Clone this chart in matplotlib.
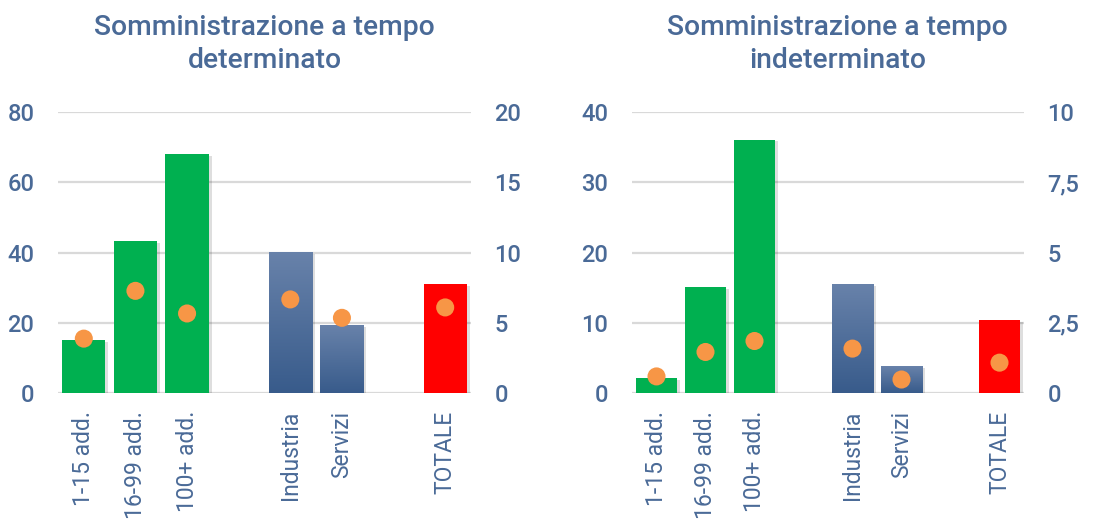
import matplotlib
matplotlib.use("Agg")
import matplotlib.pyplot as plt
import matplotlib.patheffects as pe
from matplotlib.colors import LinearSegmentedColormap
import numpy as np

categories = ["1-15 add.", "16-99 add.", "100+ add.", "", "Industria", "Servizi", "", "TOTALE"]
bar_groups = ["dim", "dim", "dim", None, "sett", "sett", None, "tot"]

det_bars = [15.0, 43.2, 68.0, None, 40.1, 19.3, None, 31.0]
det_dots = [3.87, 7.27, 5.66, None, 6.66, 5.35, None, 6.09]
ind_bars = [2.1, 15.05, 36.0, None, 15.5, 3.8, None, 10.35]
ind_dots = [0.59, 1.46, 1.85, None, 1.58, 0.48, None, 1.08]

titles = ["Somministrazione a tempo\ndeterminato", "Somministrazione a tempo\nindeterminato"]
left_ticks = [[0, 20, 40, 60, 80], [0, 10, 20, 30, 40]]
right_ticks = [[0, 5, 10, 15, 20], [0, 2.5, 5, 7.5, 10]]
right_ticklabels = [["0", "5", "10", "15", "20"], ["0", "2,5", "5", "7,5", "10"]]

plt.rcParams['font.family'] = ['Roboto', 'DejaVu Sans']
TXT = "#4A6A97"
colors = {"dim": "#00B050", "sett": "#46699A", "tot": "#FF0000"}
DOT = "#F79646"

fig = plt.figure(figsize=(10.97, 5.22), dpi=100)
axes_pos = [(58, 471), (632, 1024)]
title_x = [264.5, 837.5]
W, H = 1097, 522
bottom_px, top_px = 393, 112

grad = np.linspace(0, 1, 256).reshape(-1, 1)
blue_cmap = LinearSegmentedColormap.from_list("bl", ["#385B8B", "#6882AA"])

datasets = [(det_bars, det_dots), (ind_bars, ind_dots)]
for i, ((bars, dots), (x0, x1)) in enumerate(zip(datasets, axes_pos)):
    ax = fig.add_axes([x0 / W, 1 - bottom_px / H, (x1 - x0) / W, (bottom_px - top_px) / H])
    ax2 = ax.twinx()
    x = np.arange(len(categories))
    for xi, v, g in zip(x, bars, bar_groups):
        if v is None:
            continue
        b = ax.bar(xi, v, width=0.84, color=colors[g], zorder=3)
        for p in b.patches:
            p.set_path_effects([pe.SimplePatchShadow(offset=(2, -1), shadow_rgbFace="#000000", alpha=0.13),
                                pe.Normal()])
            if g == "sett":
                im = ax.imshow(grad, cmap=blue_cmap, aspect='auto', origin='lower',
                               extent=[xi - 0.42, xi + 0.42, 0, v], zorder=3.5)
                im.set_clip_path(p)
    xs = [xi for xi, d in zip(x, dots) if d is not None]
    ds = [d for d in dots if d is not None]
    ax2.plot(xs, ds, 'o', color=DOT, markersize=13, markeredgewidth=0, zorder=5,
             path_effects=[pe.SimpleLineShadow(offset=(1, -2), shadow_color="#7a3a00", alpha=0.35), pe.Normal()])
    ax.set_xlim(-0.5, len(categories) - 0.5)
    ax.set_ylim(left_ticks[i][0], left_ticks[i][-1])
    ax2.set_ylim(right_ticks[i][0], right_ticks[i][-1])
    ax.set_yticks(left_ticks[i])
    ax.set_yticklabels([str(t) for t in left_ticks[i]])
    ax2.set_yticks(right_ticks[i])
    ax2.set_yticklabels(right_ticklabels[i])
    ax.set_xticks(x)
    ax.set_xticklabels(categories, rotation=90, color=TXT, fontsize=16.5)
    ax.grid(axis='y', color="#D9D9D9", linewidth=1.6, zorder=0)
    ax.set_axisbelow(True)
    for a in (ax, ax2):
        for s in a.spines.values():
            s.set_visible(False)
    ax.tick_params(axis='both', length=0)
    ax.tick_params(axis='y', pad=17, labelsize=17, labelcolor=TXT)
    ax.tick_params(axis='x', pad=13)
    ax2.tick_params(axis='y', length=0, pad=17, labelsize=17, labelcolor=TXT)
    for lab in ax.get_yticklabels() + ax2.get_yticklabels():
        lab.set_fontweight(500)
    ax.set_zorder(ax2.get_zorder() - 1)
    ax.patch.set_visible(False)
    ax2.patch.set_visible(False)
    fig.text(title_x[i] / W, 1 - 44 / H, titles[i], ha='center', va='center', fontsize=20.3,
             color=TXT, fontweight=500, linespacing=1.33)

fig.savefig("out.png", dpi=100, facecolor="white")
